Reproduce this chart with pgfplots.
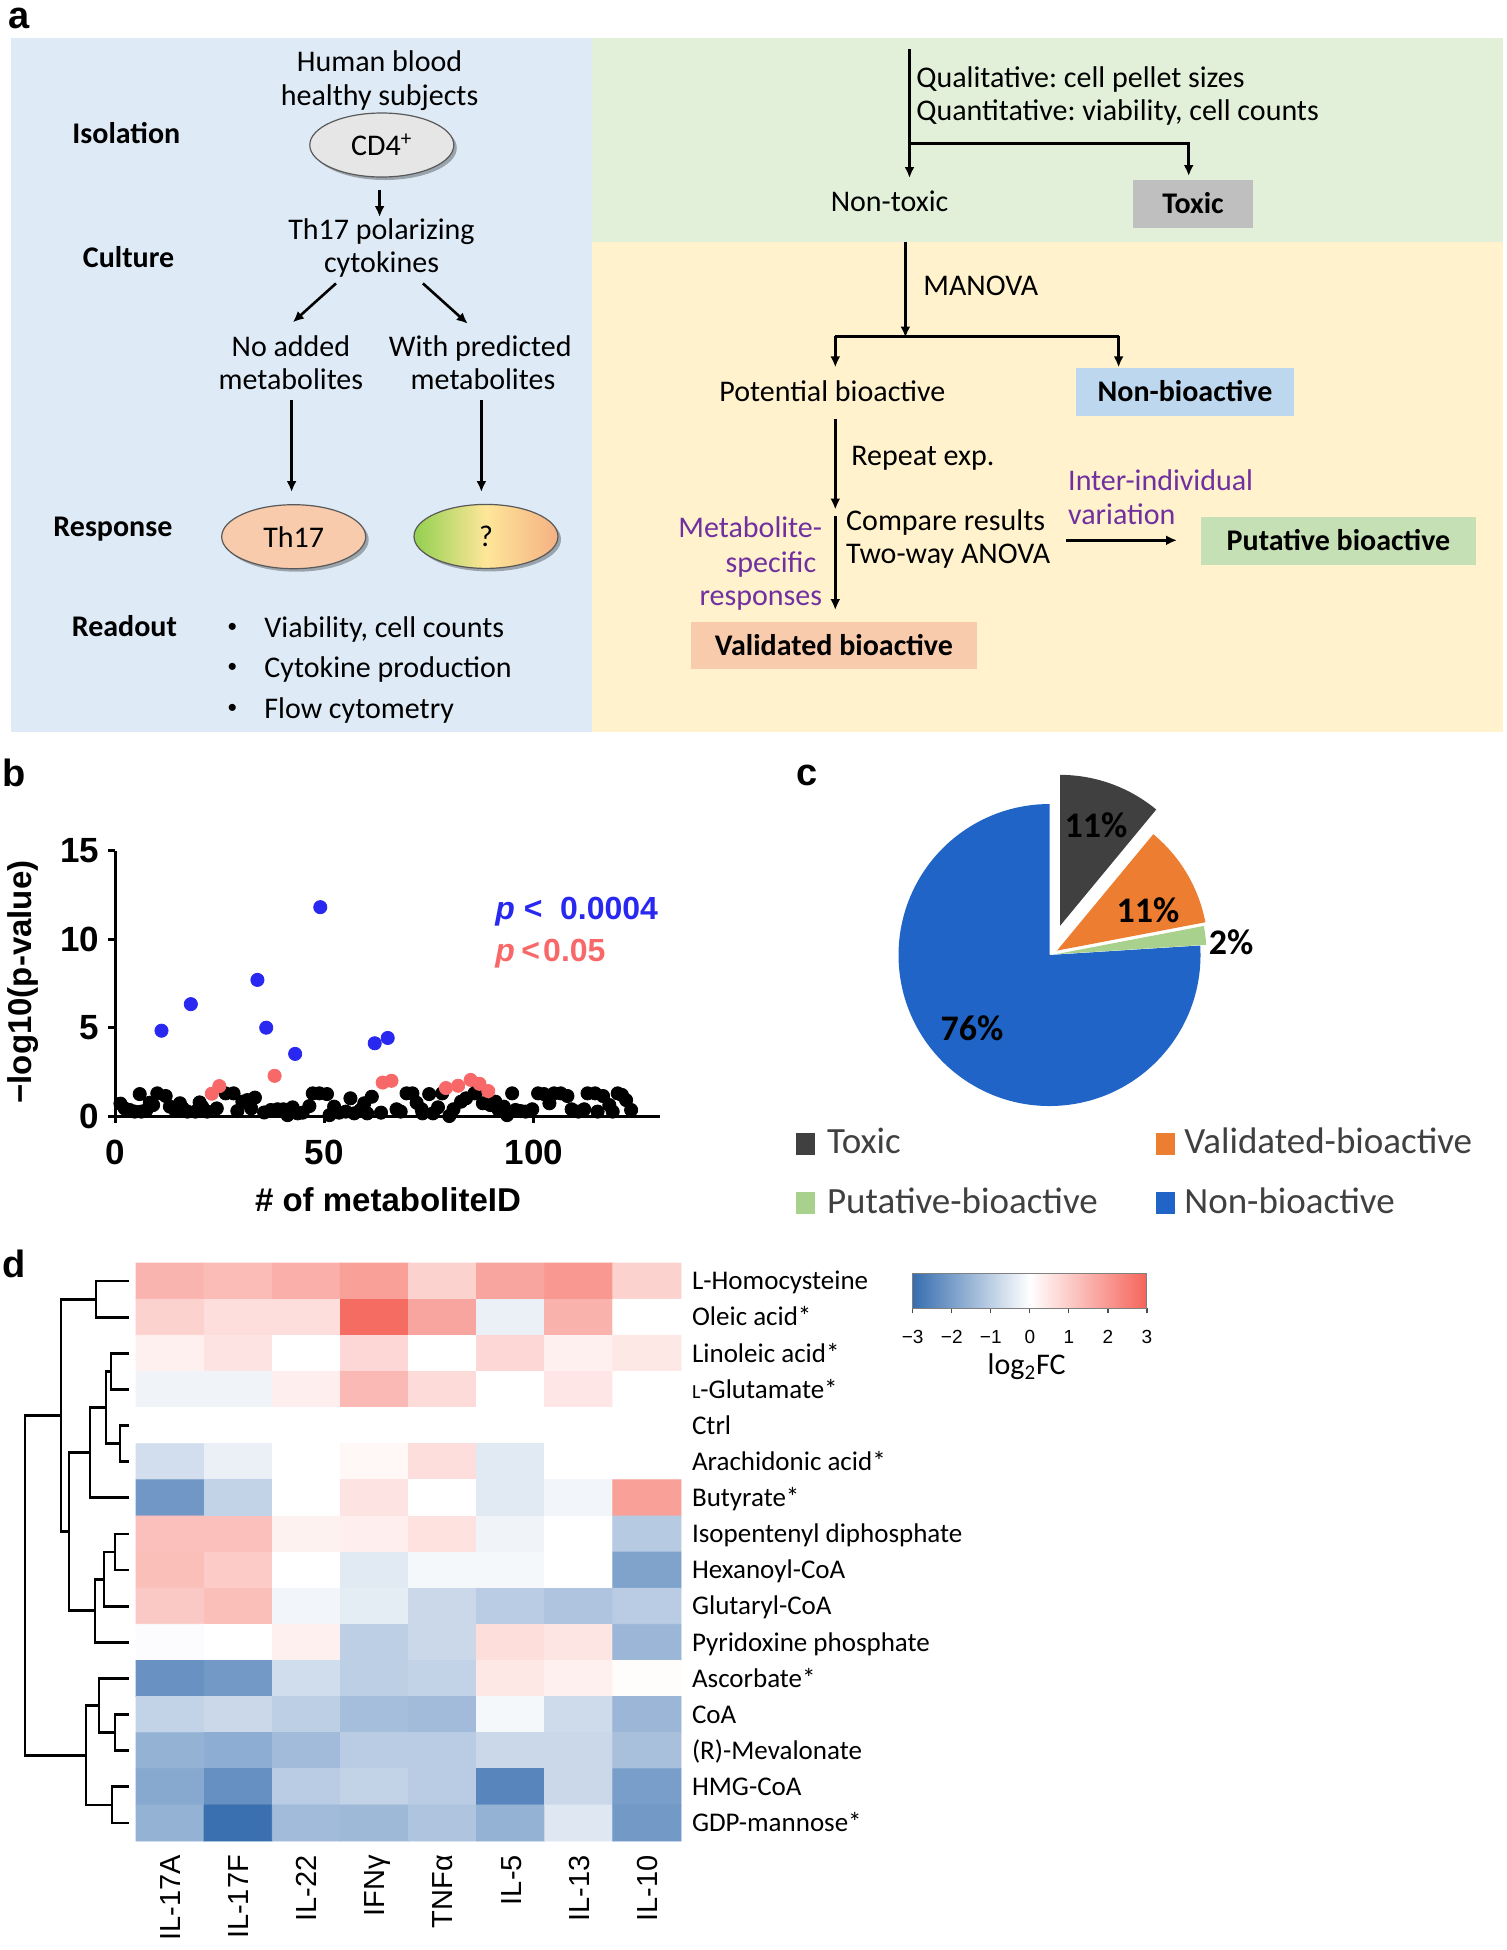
\documentclass[border=0pt]{standalone}
\usepackage{fontspec}
\setmainfont{Carlito}
\newfontfamily\arial{Liberation Sans}
\usepackage{pgfplots}
\pgfplotsset{compat=1.18}
\usetikzlibrary{arrows.meta,shapes.geometric,shadows}
\newcommand\fs[1]{\fontsize{#1}{#1}\selectfont}
\definecolor{bgblue}{HTML}{DEEBF7}
\definecolor{bggreen}{HTML}{E2F0D9}
\definecolor{bgyellow}{HTML}{FFF2CC}
\definecolor{toxgray}{HTML}{BFBFBF}
\definecolor{nonbio}{HTML}{BDD7EE}
\definecolor{putgreen}{HTML}{C5E0B4}
\definecolor{valpeach}{HTML}{F8CBAD}
\definecolor{purp}{HTML}{7030A0}
\definecolor{cdgray}{HTML}{E7E6E6}
\definecolor{qgreen}{HTML}{92D050}
\definecolor{qyellow}{HTML}{FFE699}
\definecolor{qorange}{HTML}{F4B183}
\definecolor{dotblue}{RGB}{40,40,240}
\definecolor{dotred}{RGB}{248,104,104}
\definecolor{pietox}{HTML}{404040}
\definecolor{pieval}{HTML}{ED7D31}
\definecolor{pieput}{HTML}{A9D18E}
\definecolor{pienon}{HTML}{1F64C6}
\definecolor{legtext}{HTML}{404040}
\definecolor{cbblue}{RGB}{55,110,175}
\definecolor{cbred}{RGB}{245,100,90}
\tikzset{
 t/.style={inner sep=0pt, font=\fs{15pt}, text height=9.66pt, text depth=0pt},
 tb/.style={inner sep=0pt, font=\fs{15pt}\bfseries, text height=9.66pt, text depth=0pt},
 arr/.style={line width=1.3pt, -{Latex[length=5.5pt,width=5pt]}},
 ell/.style={ellipse, draw=black!65, line width=0.6pt, inner sep=0pt, minimum width=72pt, minimum height=32pt,
   font=\fs{15pt}, drop shadow={shadow xshift=1.5pt, shadow yshift=-1.5pt, opacity=0.3, fill=black}},
 letter/.style={inner sep=0pt, anchor=base west, font=\arial\bfseries\fs{19pt}},
}
\begin{document}
\begin{tikzpicture}
\path[use as bounding box] (0,0) rectangle (753pt,-975pt);
\begin{scope}[x=0.5pt,y=-0.5pt]
% ---------- panel a backgrounds
\fill[bgblue] (10.7,38) rectangle (592,732);
\fill[bggreen] (592,38) rectangle (1503,241.7);
\fill[bgyellow] (592,241.7) rectangle (1503,732);
% ---------- left part
\node[t] at (379.6,61.6) {Human blood};
\node[t] at (379.6,95.7) {healthy subjects};
\node[tb] at (126.3,134) {Isolation};
\node[ell, fill=cdgray] at (381.8,145) {CD4\textsuperscript{+}};
\draw[arr] (379.6,189.6) -- (379.6,217);
\node[t] at (381.5,229.9) {Th17 polarizing};
\node[t] at (381.5,263) {cytokines};
\node[tb] at (128.6,258.3) {Culture};
\draw[arr] (336,283.4) -- (292.8,322.3);
\draw[arr] (422.9,283.4) -- (467.7,323.7);
\node[t] at (290.9,347) {No added};
\node[t] at (290.9,380) {metabolites};
\node[t] at (480.3,347) {With predicted};
\node[t] at (483,380) {metabolites};
\draw[arr] (291.6,399.5) -- (291.6,492);
\draw[arr] (481.4,399.5) -- (481.4,492);
\node[tb] at (112.9,527) {Response};
\node[ell, fill=valpeach] at (293.7,536.7) {Th17};
\node[ell, left color=qgreen, right color=qorange, middle color=qyellow] at (486,536.4) {?};
\node[tb] at (124.4,626.5) {Readout};
\foreach \yy/\tt in {628/{Viability, cell counts},668.2/{Cytokine production},708.5/{Flow cytometry}}{
  \node[inner sep=0pt, font=\fs{10pt}] at (232.3,\yy) {\textbullet};
  \node[t,anchor=west] at (264,\yy) {\tt};
}
% ---------- right part
\draw[arr] (909.5,49) -- (909.5,178);
\draw[arr] (909.5,143.6) -- (1188.7,143.6) -- (1188.7,176);
\node[t,anchor=west] at (916,78) {Qualitative:\ cell pellet sizes};
\node[t,anchor=west] at (916,111) {Quantitative:\ viability,\ cell counts};
\node[t] at (889.6,201.4) {Non-toxic};
\fill[toxgray] (1133,180) rectangle (1253,228.4);
\node[tb] at (1193,204.2) {Toxic};
\draw[arr] (905.4,241.7) -- (905.4,337.5);
\node[t,anchor=west] at (923,285.8) {MANOVA};
\draw[line width=1.3pt] (834.65,336.5) -- (1119.25,336.5);
\draw[arr] (835.3,336) -- (835.3,367.3);
\draw[arr] (1118.6,336) -- (1118.6,367.3);
\node[t] at (832.4,391.5) {Potential bioactive};
\fill[nonbio] (1076,368) rectangle (1294,416);
\node[tb] at (1185,392) {Non-bioactive};
\draw[arr] (835.3,419) -- (835.3,509.5);
\node[t,anchor=west] at (851,456) {Repeat exp.};
\draw[arr] (835.3,515.6) -- (835.3,610);
\node[t,anchor=west] at (845.8,520.4) {Compare results};
\node[t,anchor=west] at (845.8,553.6) {Two-way ANOVA};
\node[t,text=purp,anchor=east] at (822.5,527.5) {Metabolite-};
\node[t,text=purp,anchor=east] at (816.6,562.6) {specific};
\node[t,text=purp,anchor=east] at (822.5,596.2) {responses};
\node[t,text=purp,anchor=west] at (1067.8,481) {Inter-individual};
\node[t,text=purp,anchor=west] at (1067.8,515) {variation};
\draw[arr] (1066,540.3) -- (1177,540.3);
\fill[putgreen] (1201,516.6) rectangle (1476,565);
\node[tb] at (1338.5,540.8) {Putative bioactive};
\fill[valpeach] (690.5,621.8) rectangle (977.3,669.2);
\node[tb] at (833.9,645.5) {Validated bioactive};
\end{scope}

% ---------- panel b
\begin{axis}[
 at={(57.5pt,-558pt)}, anchor=south west, scale only axis,
 width=272.3pt, height=132.75pt,
 xmin=0, xmax=130, ymin=0, ymax=15,
 axis x line*=bottom, axis y line*=left,
 axis line style={line width=1.5pt,-},
 tick align=outside,
 every tick/.style={black, line width=1.5pt},
 major tick length=3.5pt,
 xtick={0,50,100}, ytick={0,5,10,15},
 ticklabel style={font=\arial\bfseries\fs{17.5pt}},
 /pgf/number format/assume math mode=true,
 xticklabel shift=5pt, yticklabel shift=1pt,
 clip=false,
]
\addplot[only marks, mark=*, mark size=3.3pt, mark options={draw=black, fill=black}] coordinates {
(1.3,0.7) (2.3,0.43) (3.5,0.34) (4.7,0.25) (5.9,1.24) (6.3,0.25) (7.5,0.34) (8.3,0.75) (9.1,0.62) (10.1,1.28)
(12.1,1.13) (13.1,0.53) (14.3,0.34) (15.5,0.72) (16.2,0.43) (17.3,0.25) (19.2,0.25) (20.2,0.77) (20.8,0.53) (22.0,0.25)
(24.3,0.43) (26.4,1.28) (28.3,1.28) (29.2,0.28) (30.4,0.81) (31.6,0.9) (32.5,0.43) (33.4,1.04) (35.6,0.2) (37.2,0.34)
(38.8,0.38) (40.2,0.38) (41.2,0.05) (42.4,0.49) (43.6,0.15) (44.8,0.19) (46.4,0.56) (47.2,1.28) (48.8,1.28) (50.6,1.24)
(51.2,0.05) (52.3,0.53) (53.5,0.19) (55.1,0.25) (56.2,1.0) (57.1,0.15) (58.6,0.34) (59.5,0.72) (60.2,0.15) (61.3,1.09)
(63.5,0.19) (67.2,0.38) (68.2,0.25) (69.6,1.28) (71.0,1.28) (72.0,0.75) (73.2,0.38) (73.4,0.15) (75.0,1.24) (75.9,0.15)
(77.1,0.49) (78.1,1.28) (79.8,0.0) (80.8,0.38) (82.6,0.81) (83.8,1.0) (85.8,1.28) (86.3,1.37) (87.8,0.72) (89.6,0.62)
(90.8,0.81) (91.6,0.34) (92.8,0.53) (93.6,0.05) (94.8,1.28) (95.6,0.34) (96.8,0.28) (98.0,0.25) (99.6,0.38) (101.0,1.28)
(102.4,1.24) (103.7,0.72) (104.8,1.28) (106.4,1.28) (108.0,1.13) (109.0,0.38) (110.6,0.25) (112.0,0.38) (112.8,1.28) (114.6,1.28)
(115.2,0.25) (116.5,1.13) (118.0,0.62) (118.8,0.25) (120.0,1.28) (121.0,1.19) (122.0,0.9) (123.2,0.34)
};
\addplot[only marks, mark=*, mark size=3.3pt, mark options={draw=dotred, fill=dotred}] coordinates {
(23.1,1.26) (24.9,1.69) (38.1,2.27) (63.9,1.89) (66.0,1.99) (79.0,1.58) (81.9,1.71) (84.9,2.04) (87.0,1.82) (89.1,1.41)
};
\addplot[only marks, mark=*, mark size=3.3pt, mark options={draw=dotblue, fill=dotblue}] coordinates {
(11.1,4.82) (18.1,6.32) (34.0,7.69) (36.1,4.99) (43.0,3.51) (49.0,11.8) (62.0,4.11) (65.1,4.41)
};
\end{axis}

% ---------- panel c (pie)
\begin{axis}[at={(449.25pt,-553pt)}, anchor=south west, scale only axis,
 width=151pt, height=151pt, xmin=-1, xmax=1, ymin=-1, ymax=1, hide axis, clip=false]
\addplot[draw=none] coordinates {(0,0)};
% Toxic 11%, Validated 11%, Putative 2%, Non-bioactive 76%
\fill[pienon] (axis cs:0,0) -- (axis cs:0.99803,0.06279) arc[start angle={90-3.6*24}, end angle={90-3.6*100}, radius=75.5pt] -- cycle;
\fill[pieput] (axis cs:0.0397,0.005) -- (axis cs:1.0220,0.1924) arc[start angle={90-3.6*22}, end angle={90-3.6*24}, radius=75.5pt] -- cycle;
\fill[pieval] (axis cs:0.0499,0.0295) -- (axis cs:0.6873,0.8000) arc[start angle={90-3.6*11}, end angle={90-3.6*22}, radius=75.5pt] -- cycle;
\fill[pietox] (axis cs:0.0695,0.193) -- (axis cs:0.0695,1.193) arc[start angle=90, end angle={90-3.6*11}, radius=75.5pt] -- cycle;
\end{axis}

% ---------- panel d heatmap
\begin{axis}[
 at={(68pt,-631.5pt)}, anchor=north west, scale only axis,
 width=272.5pt, height=289pt,
 xmin=-0.5, xmax=7.5, ymin=-0.5, ymax=15.5, y dir=reverse,
 axis line style={draw=none}, major tick length=0pt,
 xtick={0,...,7},
 xticklabels={IL-17A,IL-17F,IL-22,IFNγ,TNFα,IL-5,IL-13,IL-10},
 xticklabel style={rotate=90, anchor=east, font=\arial\fs{14.5pt}, text height=10.4pt, text depth=0pt},
 xticklabel shift=3.5pt,
 ytick={0,...,15},
 yticklabels={L-Homocysteine,Oleic acid*,Linoleic acid*,{{\fs{10pt}L}-Glutamate*},Ctrl,Arachidonic acid*,Butyrate*,Isopentenyl diphosphate,Hexanoyl-CoA,Glutaryl-CoA,Pyridoxine phosphate,Ascorbate*,CoA,(R)-Mevalonate,HMG-CoA,GDP-mannose*},
 yticklabel pos=right,
 yticklabel style={anchor=west, font=\fs{13.5pt}, text height=8.7pt, text depth=0pt},
 yticklabel shift=2pt,
 colormap={hm}{rgb255(0cm)=(55,110,175) rgb255(3cm)=(255,255,255) rgb255(6cm)=(245,100,90)},
 point meta min=-3, point meta max=3,
 clip=false,
]
\addplot[matrix plot, mesh/cols=8, point meta=explicit] coordinates {
(0,0)[1.45] (1,0)[1.3] (2,0)[1.55] (3,0)[1.85] (4,0)[0.87] (5,0)[1.75] (6,0)[2.0] (7,0)[0.87]
(0,1)[0.87] (1,1)[0.64] (2,1)[0.64] (3,1)[2.85] (4,1)[1.75] (5,1)[-0.3] (6,1)[1.5] (7,1)[0]
(0,2)[0.29] (1,2)[0.52] (2,2)[0] (3,2)[0.77] (4,2)[0] (5,2)[0.77] (6,2)[0.3] (7,2)[0.45]
(0,3)[-0.22] (1,3)[-0.22] (2,3)[0.33] (3,3)[1.35] (4,3)[0.7] (5,3)[0] (6,3)[0.48] (7,3)[0]
(0,4)[0] (1,4)[0] (2,4)[0] (3,4)[0] (4,4)[0] (5,4)[0] (6,4)[0] (7,4)[0]
(0,5)[-0.68] (1,5)[-0.3] (2,5)[0] (3,5)[0.14] (4,5)[0.64] (5,5)[-0.45] (6,5)[0] (7,5)[0]
(0,6)[-2.15] (1,6)[-0.9] (2,6)[0] (3,6)[0.52] (4,6)[0] (5,6)[-0.45] (6,6)[-0.2] (7,6)[1.85]
(0,7)[1.22] (1,7)[1.22] (2,7)[0.25] (3,7)[0.33] (4,7)[0.56] (5,7)[-0.22] (6,7)[0] (7,7)[-1.1]
(0,8)[1.25] (1,8)[1.0] (2,8)[0] (3,8)[-0.45] (4,8)[-0.15] (5,8)[-0.15] (6,8)[0] (7,8)[-1.9]
(0,9)[1.05] (1,9)[1.25] (2,9)[-0.2] (3,9)[-0.4] (4,9)[-0.8] (5,9)[-1.05] (6,9)[-1.2] (7,9)[-1.05]
(0,10)[-0.05] (1,10)[0] (2,10)[0.3] (3,10)[-1.0] (4,10)[-0.8] (5,10)[0.65] (6,10)[0.5] (7,10)[-1.5]
(0,11)[-2.25] (1,11)[-2.1] (2,11)[-0.7] (3,11)[-1.0] (4,11)[-0.9] (5,11)[0.45] (6,11)[0.3] (7,11)[0.05]
(0,12)[-0.9] (1,12)[-0.8] (2,12)[-1.0] (3,12)[-1.35] (4,12)[-1.4] (5,12)[-0.15] (6,12)[-0.75] (7,12)[-1.5]
(0,13)[-1.6] (1,13)[-1.7] (2,13)[-1.4] (3,13)[-1.05] (4,13)[-1.05] (5,13)[-0.8] (6,13)[-0.8] (7,13)[-1.3]
(0,14)[-1.8] (1,14)[-2.3] (2,14)[-1.05] (3,14)[-0.9] (4,14)[-1.05] (5,14)[-2.5] (6,14)[-0.8] (7,14)[-2.0]
(0,15)[-1.6] (1,15)[-2.95] (2,15)[-1.4] (3,15)[-1.45] (4,15)[-1.2] (5,15)[-1.6] (6,15)[-0.5] (7,15)[-2.1]
};
% dendrogram
\pgfplotsset{dendro/.style={black, line width=1.4pt, line join=miter, no marks}}
\addplot[dendro] coordinates {(-0.603,0) (-1.087,0) (-1.087,1) (-0.603,1)};
\addplot[dendro] coordinates {(-0.603,2) (-0.867,2) (-0.867,3) (-0.603,3)};
\addplot[dendro] coordinates {(-0.603,4) (-0.735,4) (-0.735,5) (-0.603,5)};
\addplot[dendro] coordinates {(-0.867,2.5) (-0.940,2.5) (-0.940,4.5) (-0.735,4.5)};
\addplot[dendro] coordinates {(-0.940,3.5) (-1.175,3.5) (-1.175,6) (-0.603,6)};
\addplot[dendro] coordinates {(-0.603,7) (-0.808,7) (-0.808,8) (-0.603,8)};
\addplot[dendro] coordinates {(-0.808,7.5) (-0.970,7.5) (-0.970,9) (-0.603,9)};
\addplot[dendro] coordinates {(-0.970,8.25) (-1.102,8.25) (-1.102,10) (-0.603,10)};
\addplot[dendro] coordinates {(-1.175,4.75) (-1.483,4.75) (-1.483,9.125) (-1.102,9.125)};
\addplot[dendro] coordinates {(-1.087,0.5) (-1.601,0.5) (-1.601,6.9375) (-1.483,6.9375)};
\addplot[dendro] coordinates {(-0.603,12) (-0.808,12) (-0.808,13) (-0.603,13)};
\addplot[dendro] coordinates {(-0.603,11) (-1.043,11) (-1.043,12.5) (-0.808,12.5)};
\addplot[dendro] coordinates {(-0.603,14) (-0.852,14) (-0.852,15) (-0.603,15)};
\addplot[dendro] coordinates {(-1.043,11.75) (-1.234,11.75) (-1.234,14.5) (-0.852,14.5)};
\addplot[dendro] coordinates {(-1.601,3.71875) (-2.129,3.71875) (-2.129,13.125) (-1.234,13.125)};
\end{axis}

% ---------- colour bar
\begin{axis}[at={(456.35pt,-636.65pt)}, anchor=north west, scale only axis,
 width=117.15pt, height=17.5pt, xmin=-3, xmax=3, ymin=0, ymax=1,
 ytick=\empty, xtick={-3,...,3}, xticklabels={−3,−2,−1,0,1,2,3},
 xtick pos=left, tick align=outside, major tick length=2.5pt,
 axis line style={gray, line width=0.5pt},
 every tick/.style={black!70, line width=0.6pt},
 xticklabel style={font=\arial\fs{9.5pt}},
 xticklabel shift=5pt, axis on top]
\shade[left color=cbblue, right color=cbred, middle color=white] (axis cs:-3,0) rectangle (axis cs:3,1);
\end{axis}

\begin{scope}[x=0.5pt,y=-0.5pt]
% panel letters
\node[letter] at (8,28) {a};
\node[letter] at (2,786) {b};
\node[letter] at (796,785) {c};
\node[letter] at (2,1277) {d};
% panel b labels
\node[inner sep=0pt, rotate=90, font=\arial\bfseries\fs{16.5pt}] at (23,982) {−log10(p-value)};
\node[inner sep=0pt, font=\arial\bfseries\fs{16.5pt}] at (388,1200) {\# of metaboliteID};
\node[inner sep=0pt, anchor=base west, font=\arial\bfseries\fs{16pt}, text=dotblue] at (495,919) {\textit{p} <\hspace{0.55em}0.0004};
\node[inner sep=0pt, anchor=base west, font=\arial\bfseries\fs{16pt}, text=dotred] at (495,961.7) {\textit{p}\hspace{0.2em}<\hspace{0.1em}0.05};
% pie labels
\node[inner sep=0pt, font=\fs{18pt}\bfseries] at (1096,825) {11\%};
\node[inner sep=0pt, font=\fs{18pt}\bfseries] at (1148,910) {11\%};
\node[inner sep=0pt, font=\fs{18pt}\bfseries] at (1231,942) {2\%};
\node[inner sep=0pt, font=\fs{18pt}\bfseries] at (972,1028) {76\%};
% pie legend
\fill[pietox] (795.7,1133) rectangle (814.8,1155);
\fill[pieval] (1156,1133) rectangle (1175,1155);
\fill[pieput] (795.7,1192) rectangle (814.8,1214);
\fill[pienon] (1156,1192) rectangle (1175,1214);
\node[inner sep=0pt, anchor=base west, font=\fs{18.5pt}, text=legtext] at (826.7,1153) {Toxic};
\node[inner sep=0pt, anchor=base west, font=\fs{18.5pt}, text=legtext] at (1184,1153) {Validated-bioactive};
\node[inner sep=0pt, anchor=base west, font=\fs{18.5pt}, text=legtext] at (826.7,1213) {Putative-bioactive};
\node[inner sep=0pt, anchor=base west, font=\fs{18.5pt}, text=legtext] at (1184,1213) {Non-bioactive};
% colour bar label
\node[inner sep=0pt, font=\fs{15pt}] at (1026.7,1367) {log\textsubscript{2}FC};
\end{scope}
\end{tikzpicture}
\end{document}
